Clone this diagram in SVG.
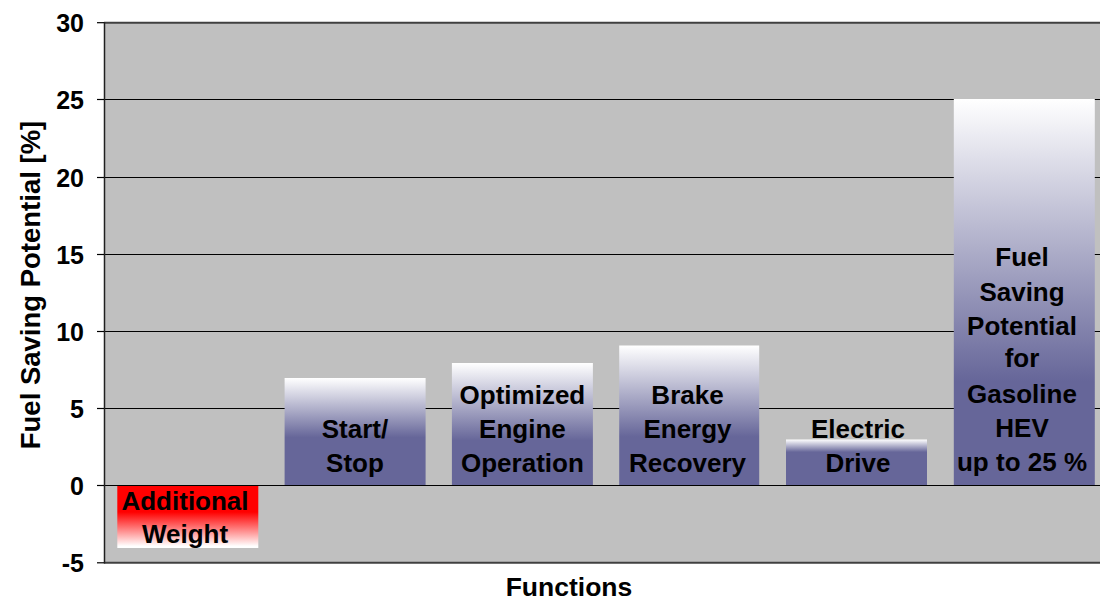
<svg xmlns="http://www.w3.org/2000/svg" width="1100" height="604" viewBox="0 0 1100 604">
<style>
.tick{font-family:"Liberation Sans",Arial,sans-serif;font-weight:bold;font-size:25px;fill:#000;text-anchor:end}
.lbl{font-family:"Liberation Sans",Arial,sans-serif;font-weight:bold;font-size:26px;fill:#000;text-anchor:middle}
.title{font-family:"Liberation Sans",Arial,sans-serif;font-weight:bold;font-size:26.5px;fill:#000;text-anchor:middle}
.grid{stroke:#000;stroke-width:1}
</style>
<defs>
<linearGradient id="gSS" x1="0" y1="0" x2="0" y2="1"><stop offset="0" stop-color="#fff"/><stop offset="0.55" stop-color="#666699"/></linearGradient>
<linearGradient id="gOE" x1="0" y1="0" x2="0" y2="1"><stop offset="0" stop-color="#fff"/><stop offset="0.63" stop-color="#666699"/></linearGradient>
<linearGradient id="gBR" x1="0" y1="0" x2="0" y2="1"><stop offset="0" stop-color="#fff"/><stop offset="0.65" stop-color="#666699"/></linearGradient>
<linearGradient id="gED" x1="0" y1="0" x2="0" y2="1"><stop offset="0" stop-color="#fff"/><stop offset="0.27" stop-color="#666699"/></linearGradient>
<linearGradient id="gFS" x1="0" y1="0" x2="0" y2="1"><stop offset="0" stop-color="#fff"/><stop offset="0.73" stop-color="#666699"/></linearGradient>
<linearGradient id="gAW" x1="0" y1="0" x2="0" y2="1"><stop offset="0" stop-color="#f00"/><stop offset="0.42" stop-color="#f00"/><stop offset="0.97" stop-color="#fff"/></linearGradient>
</defs>
<rect x="0" y="0" width="1100" height="604" fill="#fff"/>
<g id="plot">
<rect x="104.5" y="22.5" width="996" height="540" fill="#c0c0c0"/>
<line class="grid" x1="104" y1="99.5" x2="1100" y2="99.5"/>
<line class="grid" x1="104" y1="177.5" x2="1100" y2="177.5"/>
<line class="grid" x1="104" y1="254.5" x2="1100" y2="254.5"/>
<line class="grid" x1="104" y1="331.5" x2="1100" y2="331.5"/>
<line class="grid" x1="104" y1="408.5" x2="1100" y2="408.5"/>
<line x1="104" y1="22.7" x2="1100" y2="22.7" stroke="#404040" stroke-width="2"/>
<line x1="104" y1="562.8" x2="1100" y2="562.8" stroke="#404040" stroke-width="2"/>
</g>
<g id="bars">
<g id="bar-additional-weight">
<rect x="117.3" y="486" width="141" height="62" fill="url(#gAW)"/>
<text class="lbl" x="185" y="509.5">Additional</text>
<text class="lbl" x="185" y="542.5">Weight</text>
</g>
<g id="bar-start-stop">
<rect x="284.6" y="378" width="141" height="108" fill="url(#gSS)"/>
<text class="lbl" x="355" y="437.5">Start/</text>
<text class="lbl" x="355" y="471.5">Stop</text>
</g>
<g id="bar-optimized">
<rect x="451.9" y="363" width="141" height="123" fill="url(#gOE)"/>
<text class="lbl" x="522.4" y="404">Optimized</text>
<text class="lbl" x="522.4" y="438">Engine</text>
<text class="lbl" x="522.4" y="471.5">Operation</text>
</g>
<g id="bar-brake">
<rect x="619.2" y="345.5" width="140" height="140.5" fill="url(#gBR)"/>
<text class="lbl" x="687.5" y="403.5">Brake</text>
<text class="lbl" x="687.5" y="438">Energy</text>
<text class="lbl" x="687.5" y="472">Recovery</text>
</g>
<g id="bar-electric">
<rect x="786" y="439.5" width="141" height="46.5" fill="url(#gED)"/>
<text class="lbl" x="858" y="438">Electric</text>
<text class="lbl" x="858" y="472">Drive</text>
</g>
<g id="bar-fuel">
<rect x="953.8" y="99" width="141" height="387" fill="url(#gFS)"/>
<text class="lbl" x="1022" y="266">Fuel</text>
<text class="lbl" x="1022" y="300.5">Saving</text>
<text class="lbl" x="1022" y="334.5">Potential</text>
<text class="lbl" x="1022" y="367">for</text>
<text class="lbl" x="1022" y="403">Gasoline</text>
<text class="lbl" x="1022" y="437">HEV</text>
<text class="lbl" x="1022" y="471">up to 25 %</text>
</g>
</g>
<g id="axes">
<line x1="104" y1="485.5" x2="1100" y2="485.5" stroke="#000" stroke-width="1.2"/>
<line x1="104.5" y1="22" x2="104.5" y2="563.5" stroke="#202020" stroke-width="1.5"/>
<g stroke="#000" stroke-width="1.2">
<line x1="97" y1="22.7" x2="104" y2="22.7"/>
<line x1="97" y1="99.5" x2="104" y2="99.5"/>
<line x1="97" y1="177.5" x2="104" y2="177.5"/>
<line x1="97" y1="254.5" x2="104" y2="254.5"/>
<line x1="97" y1="331.5" x2="104" y2="331.5"/>
<line x1="97" y1="408.5" x2="104" y2="408.5"/>
<line x1="97" y1="485.5" x2="104" y2="485.5"/>
<line x1="97" y1="562.8" x2="104" y2="562.8"/>
</g>
<text class="tick" x="84" y="31.7">30</text>
<text class="tick" x="84" y="108.5">25</text>
<text class="tick" x="84" y="186.5">20</text>
<text class="tick" x="84" y="263.5">15</text>
<text class="tick" x="84" y="340.5">10</text>
<text class="tick" x="84" y="417.5">5</text>
<text class="tick" x="84" y="494.5">0</text>
<text class="tick" x="84" y="571.8">-5</text>
<text class="title" x="569" y="596">Functions</text>
<text class="title" style="font-size:27.5px" transform="translate(40 285) rotate(-90)">Fuel Saving Potential [%]</text>
</g>
</svg>
